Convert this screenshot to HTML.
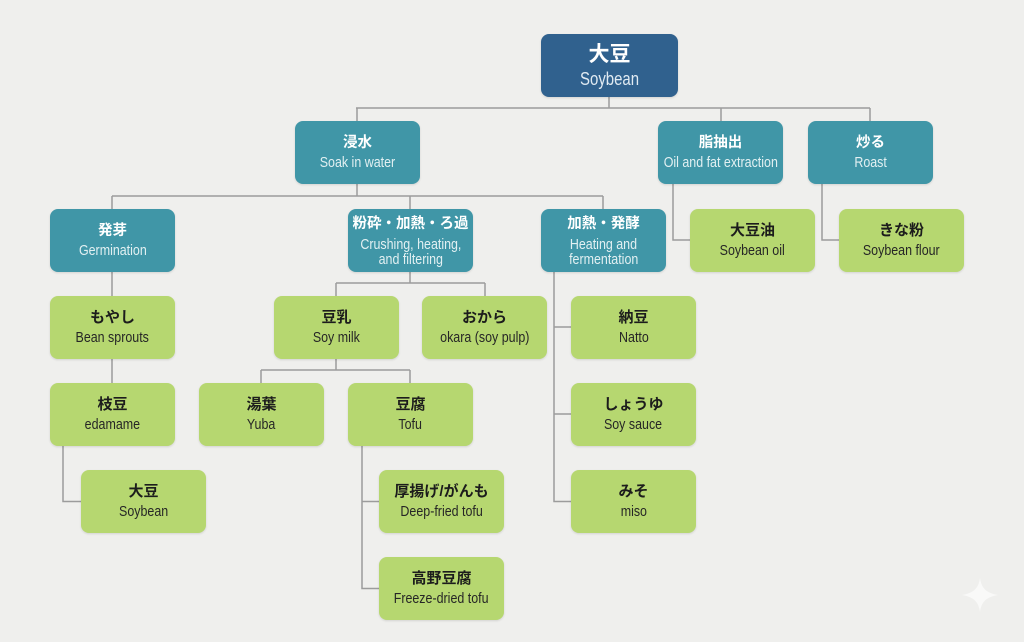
<!DOCTYPE html>
<html>
<head>
<meta charset="utf-8">
<style>
  html,body{margin:0;padding:0;}
  body{width:1024px;height:642px;background:#efefed;position:relative;overflow:hidden;
    font-family:"Liberation Sans","Noto Sans CJK JP",sans-serif;}
  svg.lines{position:absolute;left:0;top:0;}
  .b{position:absolute;width:125px;height:63px;border-radius:8px;box-sizing:border-box;
     display:flex;flex-direction:column;align-items:center;justify-content:center;text-align:center;
     box-shadow:0 1px 2px rgba(0,0,0,0.12);}
  .t{background:#4096a7;}
  .g{background:#b6d770;}
  .r{background:#30618e;}
  .jp{font-family:"Liberation Sans","Noto Sans CJK JP",sans-serif;font-weight:bold;font-size:15px;line-height:20px;}
  .en{font-size:15px;line-height:20px;white-space:nowrap;display:inline-block;transform:scaleX(0.83);}
  .t .jp{color:#ffffff;font-size:14.5px;}
  .t .en{color:#e2f0f2;}
  .g .jp{color:#1c1c1c;}
  .g .en{color:#262626;}
  .three{padding-bottom:3px;}
  .three .jp{line-height:25px;}
  .three .en{line-height:15px;}
  .star{position:absolute;left:962px;top:578px;width:36px;height:34px;}
</style>
</head>
<body>
<svg class="lines" width="1024" height="642" viewBox="0 0 1024 642" fill="none" stroke="#9c9c9c" stroke-width="1.5">
  <path d="M609 97 V108 M356 108 H870 M357 108 V121 M721 108 V121 M870 108 V121"/>
  <path d="M357 184 V196 M112 196 H603 M112 196 V209 M410 196 V209 M603 196 V209"/>
  <path d="M673 184 V240 H690 M822 184 V240 H839"/>
  <path d="M112 271 V296 M112 358 V383 M63 445 V501.5 H81"/>
  <path d="M410 271 V283 M336 283 H485 M336 283 V296 M485 283 V296"/>
  <path d="M336 358 V370 M261 370 H410 M261 370 V383 M410 370 V383"/>
  <path d="M362 445 V588.5 H379 M362 501.5 H379"/>
  <path d="M554 271 V501.5 H571 M554 327 H571 M554 414 H571"/>
</svg>

<div class="b r" style="left:541px;top:34px;width:137px;">
  <div class="jp" style="color:#fff;font-size:21px;line-height:26px;">大豆</div>
  <div class="en" style="color:#e0eaf2;font-size:18px;line-height:22px;">Soybean</div>
</div>

<div class="b t" style="left:295px;top:121px;"><div class="jp">浸水</div><div class="en">Soak in water</div></div>
<div class="b t" style="left:658px;top:121px;"><div class="jp">脂抽出</div><div class="en">Oil and fat extraction</div></div>
<div class="b t" style="left:808px;top:121px;"><div class="jp">炒る</div><div class="en">Roast</div></div>

<div class="b t" style="left:50px;top:209px;"><div class="jp">発芽</div><div class="en">Germination</div></div>
<div class="b t three" style="left:348px;top:209px;"><div class="jp">粉砕・加熱・ろ過</div><div class="en">Crushing, heating,</div><div class="en">and filtering</div></div>
<div class="b t three" style="left:541px;top:209px;"><div class="jp">加熱・発酵</div><div class="en">Heating and</div><div class="en">fermentation</div></div>
<div class="b g" style="left:690px;top:209px;"><div class="jp">大豆油</div><div class="en">Soybean oil</div></div>
<div class="b g" style="left:839px;top:209px;"><div class="jp">きな粉</div><div class="en">Soybean flour</div></div>

<div class="b g" style="left:50px;top:296px;"><div class="jp">もやし</div><div class="en">Bean sprouts</div></div>
<div class="b g" style="left:274px;top:296px;"><div class="jp">豆乳</div><div class="en">Soy milk</div></div>
<div class="b g" style="left:422px;top:296px;"><div class="jp">おから</div><div class="en">okara (soy pulp)</div></div>
<div class="b g" style="left:571px;top:296px;"><div class="jp">納豆</div><div class="en">Natto</div></div>

<div class="b g" style="left:50px;top:383px;"><div class="jp">枝豆</div><div class="en">edamame</div></div>
<div class="b g" style="left:199px;top:383px;"><div class="jp">湯葉</div><div class="en">Yuba</div></div>
<div class="b g" style="left:348px;top:383px;"><div class="jp">豆腐</div><div class="en">Tofu</div></div>
<div class="b g" style="left:571px;top:383px;"><div class="jp">しょうゆ</div><div class="en">Soy sauce</div></div>

<div class="b g" style="left:81px;top:470px;"><div class="jp">大豆</div><div class="en">Soybean</div></div>
<div class="b g" style="left:379px;top:470px;"><div class="jp">厚揚げ/がんも</div><div class="en">Deep-fried tofu</div></div>
<div class="b g" style="left:571px;top:470px;"><div class="jp">みそ</div><div class="en">miso</div></div>

<div class="b g" style="left:379px;top:557px;"><div class="jp">高野豆腐</div><div class="en">Freeze-dried tofu</div></div>

<svg class="star" viewBox="0 0 36 34">
  <path d="M18 0 C19.5 10 24 15 36 17 C24 19 19.5 24 18 34 C16.5 24 12 19 0 17 C12 15 16.5 10 18 0 Z" fill="#f9f9f8"/>
</svg>
</body>
</html>
